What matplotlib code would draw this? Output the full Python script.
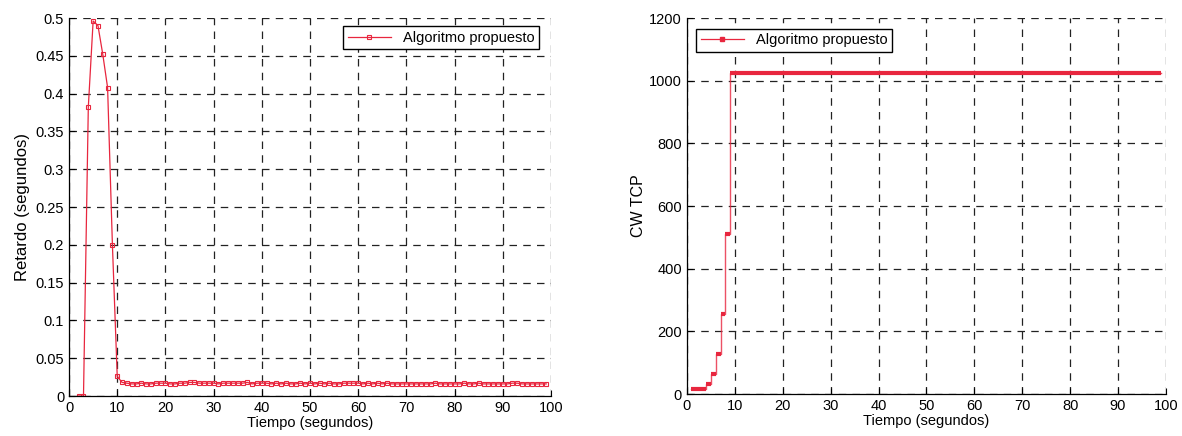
import numpy as np
import matplotlib
matplotlib.use("Agg")
import matplotlib.pyplot as plt

plt.rcParams['font.family'] = ['Liberation Sans', 'DejaVu Sans']

# delay curve (left)
t_delay = list(range(2, 100))
delay_start = [0.0, 0.0, 0.382, 0.496, 0.490, 0.452, 0.408, 0.200, 0.026, 0.018]
delay_tail = [0.017, 0.016, 0.016, 0.017, 0.016, 0.016, 0.017, 0.017, 0.017,
              0.016, 0.016, 0.017, 0.017, 0.018, 0.018, 0.017, 0.017, 0.017, 0.017,
              0.016, 0.017, 0.017, 0.017, 0.017, 0.017, 0.018, 0.016, 0.017, 0.017,
              0.017, 0.016, 0.017, 0.016, 0.017, 0.016, 0.016, 0.017, 0.016, 0.017,
              0.016, 0.017, 0.016, 0.017, 0.016, 0.016, 0.017, 0.017, 0.017, 0.017,
              0.016, 0.017, 0.016, 0.017, 0.016, 0.017, 0.016, 0.016, 0.016, 0.016,
              0.016, 0.016, 0.016, 0.016, 0.016, 0.017, 0.016, 0.016, 0.016, 0.016,
              0.016, 0.017, 0.016, 0.016, 0.017, 0.016, 0.016, 0.016, 0.016, 0.016,
              0.016, 0.017, 0.017, 0.016, 0.016, 0.016, 0.016, 0.016, 0.016]
delay = delay_start + delay_tail

# congestion window steps (right)
cw_start = [0.8, 4, 5, 6, 7, 8, 9]
cw_end = [4, 5, 6, 7, 8, 9, 99]
cw_value = [16, 32, 64, 128, 256, 512, 1024]

red = '#e8263e'
fig = plt.figure(figsize=(11.82, 4.36), dpi=100)
ax1 = fig.add_axes([0.0584, 0.0917, 0.4078, 0.867])
ax2 = fig.add_axes([0.5812, 0.0963, 0.4052, 0.8624])


def style(ax):
    ax.grid(True, color='#222222', linestyle=(0, (6, 5)), linewidth=0.9)
    ax.tick_params(direction='in', labelsize=10.5, length=4, top=False, right=False)
    ax.spines['top'].set_visible(False)
    ax.spines['right'].set_visible(False)
    for s in ('left', 'bottom'):
        ax.spines[s].set_linewidth(0.9)
    ax.set_xlim(0, 100)
    ax.set_xticks(range(0, 101, 10))
    ax.set_xlabel('Tiempo (segundos)', fontsize=10.5, labelpad=1)


ax1.plot(t_delay, delay, color=red, linewidth=0.9, marker='s', markersize=2.6,
         markerfacecolor='none', markeredgewidth=0.8, label='Algoritmo propuesto')
style(ax1)
ax1.set_ylim(0, 0.5)
ax1.set_yticks(np.arange(0, 0.501, 0.05))
ax1.set_yticklabels(['0', '0.05', '0.1', '0.15', '0.2', '0.25', '0.3', '0.35',
                     '0.4', '0.45', '0.5'])
ax1.set_ylabel('Retardo (segundos)', fontsize=12, labelpad=4)
leg1 = ax1.legend(loc='upper right', fontsize=10.5, frameon=True, fancybox=False,
                  edgecolor='black', handlelength=3.0, borderpad=0.3,
                  bbox_to_anchor=(0.99, 0.997), framealpha=1)
leg1.get_frame().set_linewidth(1.0)
leg1.set_zorder(5)

step_x = cw_start + [cw_end[-1]]
step_y = cw_value + [cw_value[-1]]
ax2.plot(step_x, step_y, drawstyle='steps-post', color=red, linewidth=1.0, alpha=0.8)
ax2.hlines(cw_value, cw_start, cw_end, color=red, linewidth=3.0)
ax2.plot([], [], color=red, linewidth=0.9, marker='s', markersize=2.6,
         label='Algoritmo propuesto')
style(ax2)
ax2.set_ylim(0, 1200)
ax2.set_yticks(range(0, 1201, 200))
ax2.set_ylabel('CW TCP', fontsize=11.5, labelpad=2)
leg2 = ax2.legend(loc='upper left', fontsize=10.5, frameon=True, fancybox=False,
                  edgecolor='black', handlelength=3.0, borderpad=0.3,
                  bbox_to_anchor=(0.004, 0.99), framealpha=1)
leg2.get_frame().set_linewidth(1.0)
leg2.set_zorder(5)

fig.savefig('out.png', dpi=100)
